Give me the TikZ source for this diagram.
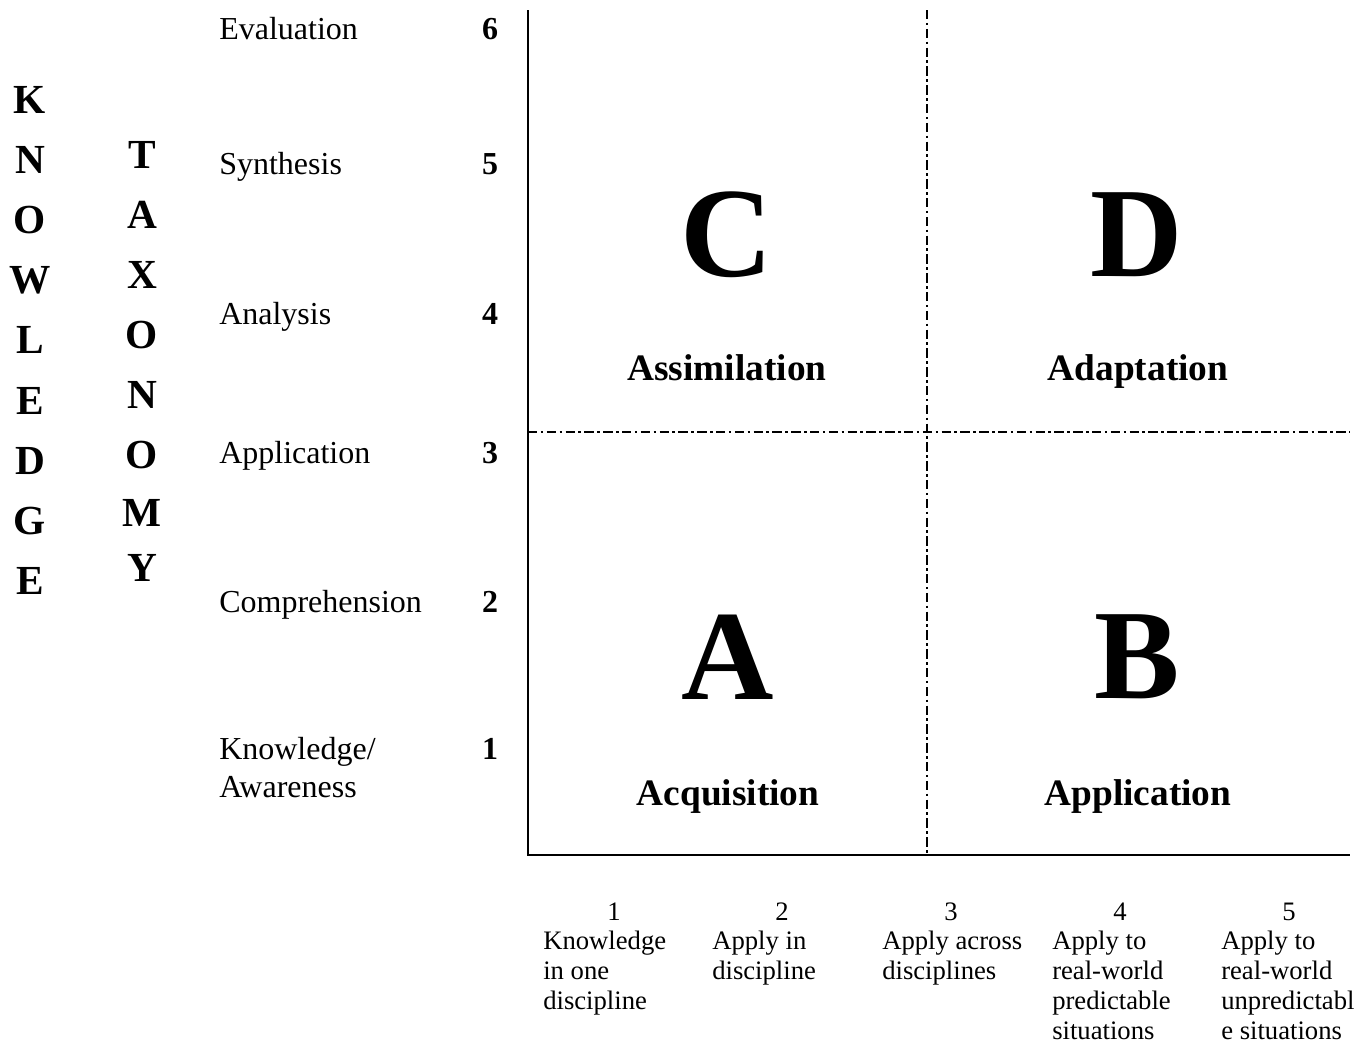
\documentclass[tikz,border=0pt]{standalone}
\usepackage{fontspec}
\setmainfont{Liberation Serif}
\begin{document}
\begin{tikzpicture}[x=0.75pt,y=-0.75pt,
 axislabel/.style={font=\fontsize{24}{28.5}\selectfont, align=left, anchor=base west, inner sep=0pt},
 levelnum/.style={font=\fontsize{24}{28.5}\selectfont\bfseries, anchor=base, inner sep=0pt},
 vletter/.style={font=\fontsize{31}{34}\selectfont\bfseries, inner sep=0pt},
 bigletter/.style={font=\fontsize{96}{100}\selectfont\bfseries, inner sep=0pt},
 quadlabel/.style={font=\fontsize{28}{32}\selectfont\bfseries, anchor=base, inner sep=0pt},
 colnum/.style={font=\fontsize{20}{22.5}\selectfont, anchor=base, inner sep=0pt},
 coltext/.style={font=\fontsize{20}{22.5}\selectfont, align=left, anchor=north west, inner sep=0pt},
 divider/.style={line width=1.5pt, dash pattern=on 7pt off 2.6pt on 1.9pt off 2.6pt},
 axisline/.style={line width=1.5pt}]
\useasboundingbox (0,0) rectangle (1372,1047);

% axes and dividers
\coordinate (tl) at (528,10);
\coordinate (bl) at (528,855);
\coordinate (br) at (1350,855);
\coordinate (mt) at (927,10);
\coordinate (mb) at (927,855);
\coordinate (ml) at (528,432);
\coordinate (mr) at (1350,432);
\draw[divider] (mt) -- (mb);
\draw[divider] (ml) -- (mr);
\draw[axisline] (tl) -- (bl) -- (br);

% vertical words
\foreach \ch [count=\i] in {K,N,O,W,L,E,D,G,E}
  \node[vletter] (kw\i) at (30,{100+60.1*(\i-1)}) {\ch};
\foreach \ch/\yy [count=\i] in {T/155,A/215,X/275,O/335,N/395,O/455,M/513,Y/568}
  \node[vletter] (tx\i) at (142,\yy) {\ch};

% level labels
\node[axislabel] (l6) at (219,39) {Evaluation};
\node[axislabel] (l5) at (219,174) {Synthesis};
\node[axislabel] (l4) at (219,324) {Analysis};
\node[axislabel] (l3) at (219,463) {Application};
\node[axislabel] (l2) at (219,612) {Comprehension};
\node[axislabel, anchor=north west] (l1) at (219,737) {Knowledge/\\Awareness};

\node[levelnum] (n6) at (490,39) {6};
\node[levelnum] (n5) at (490,174) {5};
\node[levelnum] (n4) at (490,324) {4};
\node[levelnum] (n3) at (490,463) {3};
\node[levelnum] (n2) at (490,612) {2};
\node[levelnum] (n1) at (490,759) {1};

% quadrants
\node[bigletter] (qC) at (727,235) {C};
\node[bigletter] (qD) at (1137,235) {D};
\node[bigletter] (qA) at (728,657) {A};
\node[bigletter] (qB) at (1137,657) {B};
\node[quadlabel] (lC) at (727,380) {Assimilation};
\node[quadlabel] (lD) at (1138,380) {Adaptation};
\node[quadlabel] (lA) at (728,805) {Acquisition};
\node[quadlabel] (lB) at (1138,805) {Application};

% bottom scale
\node[colnum] (c1) at (614,920) {1};
\node[colnum] (c2) at (782,920) {2};
\node[colnum] (c3) at (951,920) {3};
\node[colnum] (c4) at (1120,920) {4};
\node[colnum] (c5) at (1289,920) {5};
\node[coltext] (t1) at (543,931) {Knowledge\\in one\\discipline};
\node[coltext] (t2) at (712,931) {Apply in\\discipline};
\node[coltext] (t3) at (882,931) {Apply across\\disciplines};
\node[coltext] (t4) at (1052,931) {Apply to\\real-world\\predictable\\situations};
\node[coltext] (t5) at (1221,931) {Apply to\\real-world\\unpredictabl\\e situations};
\end{tikzpicture}
\end{document}
